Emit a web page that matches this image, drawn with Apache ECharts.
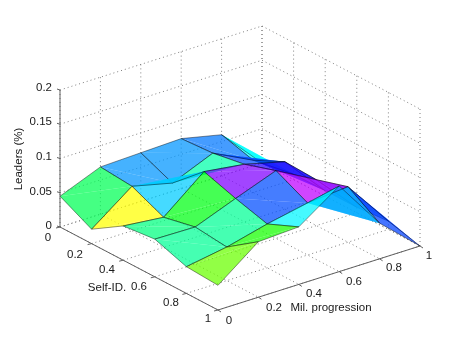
<!DOCTYPE html>
<html>
<head>
<meta charset="utf-8">
<script src="https://cdn.jsdelivr.net/npm/echarts@6/dist/echarts.min.js"></script>
<style>
  html, body { margin: 0; padding: 0; background: #fff; }
  #chart { width: 463px; height: 349px; }
</style>
</head>
<body>
<div id="chart"></div>
<script>
var selfTicks = [0, 0.2, 0.4, 0.6, 0.8, 1];
var milTicks = [0, 0.2, 0.4, 0.6, 0.8, 1];
var leaderTicks = [0, 0.05, 0.1, 0.15, 0.2];

// leaders[self index][mil index]
var leaders = [
  [0.045, 0.069, 0.071, 0.073, 0.060, 0.000],
  [0.021, 0.065, 0.051, 0.076, 0.047, 0.008],
  [0.050, 0.044, 0.092, 0.084, 0.069, 0.008],
  [0.055, 0.054, 0.077, 0.099, 0.067, 0.008],
  [0.039, 0.049, 0.064, 0.076, 0.081, 0.012],
  [0.036, 0.081, 0.084, 0.125, 0.052, 0.000]
];

// hue of each facet, same order as leaders
var faceHues = [
  [140, 205, 205, 212, 180],
  [60, 192, 160, 222, 222],
  [150, 125, 270, 248, 225],
  [155, 155, 222, 285, 222],
  [95, 115, 182, 200, 225]
];

// isometric view of the box, read from its corners
var origin = [60, 227];
var selfDir = [158, 83];
var milDir = [202, -64];
var leaderScale = 685;

function project(s, m, z) {
  return [
    origin[0] + s * selfDir[0] + m * milDir[0],
    origin[1] + s * selfDir[1] + m * milDir[1] - z * leaderScale
  ];
}

var zTop = leaderTicks[leaderTicks.length - 1];
var gridLines = [];
var axisLines = [];

leaderTicks.forEach(function (z) {
  gridLines.push([project(0, 0, z), project(0, 1, z), project(1, 1, z)]);
  axisLines.push([project(0, 0, z), [project(0, 0, z)[0] - 3, project(0, 0, z)[1] - 1]]);
});
milTicks.forEach(function (m) {
  gridLines.push([project(0, m, 0), project(0, m, zTop)]);
  gridLines.push([project(0, m, 0), project(1, m, 0)]);
  axisLines.push([project(1, m, 0), [project(1, m, 0)[0] + 3, project(1, m, 0)[1] + 2]]);
});
selfTicks.forEach(function (s) {
  gridLines.push([project(s, 1, 0), project(s, 1, zTop)]);
  gridLines.push([project(s, 0, 0), project(s, 1, 0)]);
  axisLines.push([project(s, 0, 0), [project(s, 0, 0)[0] - 4, project(s, 0, 0)[1] + 1]]);
});
axisLines.push([project(0, 0, 0), project(0, 0, zTop)]);
axisLines.push([project(0, 0, 0), project(1, 0, 0)]);
axisLines.push([project(1, 0, 0), project(1, 1, 0)]);

// facets back to front so the transparency stacks right
var faces = [];
for (var i = 0; i < 5; i++) {
  for (var j = 4; j >= 0; j--) {
    faces.push({
      depth: i - j,
      hue: faceHues[i][j],
      pts: [
        project(selfTicks[i], milTicks[j], leaders[i][j]),
        project(selfTicks[i + 1], milTicks[j], leaders[i + 1][j]),
        project(selfTicks[i + 1], milTicks[j + 1], leaders[i + 1][j + 1]),
        project(selfTicks[i], milTicks[j + 1], leaders[i][j + 1])
      ]
    });
  }
}
faces.sort(function (a, b) { return a.depth - b.depth; });

var texts = [
  { t: '0.2', x: 52, y: 88, a: 'right' },
  { t: '0.15', x: 52, y: 122, a: 'right' },
  { t: '0.1', x: 52, y: 157, a: 'right' },
  { t: '0.05', x: 52, y: 192, a: 'right' },
  { t: '0', x: 52, y: 226, a: 'right' },
  { t: '0', x: 48, y: 238, a: 'center' },
  { t: '0.2', x: 75, y: 255, a: 'center' },
  { t: '0.4', x: 107, y: 270, a: 'center' },
  { t: '0.6', x: 139, y: 287, a: 'center' },
  { t: '0.8', x: 171, y: 303, a: 'center' },
  { t: '1', x: 208, y: 319, a: 'center' },
  { t: '0', x: 229, y: 321, a: 'center' },
  { t: '0.2', x: 274, y: 308, a: 'center' },
  { t: '0.4', x: 314, y: 294, a: 'center' },
  { t: '0.6', x: 354, y: 282, a: 'center' },
  { t: '0.8', x: 394, y: 268, a: 'center' },
  { t: '1', x: 429, y: 256, a: 'center' },
  { t: 'Self-ID.', x: 107, y: 288, a: 'center' },
  { t: 'Mil. progression', x: 331, y: 308, a: 'center' },
  { t: 'Leaders (%)', x: 19, y: 159, a: 'center', r: Math.PI / 2 }
];

function lineSeries(list, color, dash) {
  return {
    type: 'custom',
    coordinateSystem: 'cartesian2d',
    silent: true,
    data: list.map(function (l, k) { return [k]; }),
    renderItem: function (params, api) {
      var l = list[params.dataIndex];
      return {
        type: 'polyline',
        shape: { points: l.map(function (p) { return api.coord(p); }) },
        style: { stroke: color, lineWidth: 1, lineDash: dash, fill: null }
      };
    }
  };
}

var chart = echarts.init(document.getElementById('chart'));
chart.setOption({
  animation: false,
  backgroundColor: '#fff',
  grid: { left: 0, right: 0, top: 0, bottom: 0 },
  xAxis: { type: 'value', min: 0, max: 463, show: false },
  yAxis: { type: 'value', min: 0, max: 349, inverse: true, show: false },
  series: [
    lineSeries(gridLines, '#808080', [1, 3]),
    lineSeries(axisLines, '#606060', null),
    {
      type: 'custom',
      coordinateSystem: 'cartesian2d',
      silent: true,
      data: faces.map(function (f, k) { return [k]; }),
      renderItem: function (params, api) {
        var f = faces[params.dataIndex];
        var p = f.pts.map(function (pt) { return api.coord(pt); });
        var fill = 'hsl(' + f.hue + ',100%,50%)';
        // a quad is two triangles split corner to corner, folds overlap
        return {
          type: 'group',
          children: [
            {
              type: 'polygon',
              shape: { points: [p[0], p[1], p[2]] },
              style: { fill: fill, opacity: 0.73 }
            },
            {
              type: 'polygon',
              shape: { points: [p[0], p[2], p[3]] },
              style: { fill: fill, opacity: 0.73 }
            },
            {
              type: 'polygon',
              shape: { points: p },
              style: { fill: null, stroke: '#000', lineWidth: 0.7, opacity: 0.6 }
            }
          ]
        };
      }
    },
    {
      type: 'custom',
      coordinateSystem: 'cartesian2d',
      silent: true,
      data: texts.map(function (f, k) { return [k]; }),
      renderItem: function (params, api) {
        var t = texts[params.dataIndex];
        var c = api.coord([t.x, t.y]);
        return {
          type: 'text',
          x: c[0],
          y: c[1],
          rotation: t.r || 0,
          style: {
            text: t.t,
            fill: '#1a1a1a',
            font: '11.5px "Liberation Sans"',
            align: t.a,
            verticalAlign: 'middle'
          }
        };
      }
    }
  ]
});
</script>
</body>
</html>
